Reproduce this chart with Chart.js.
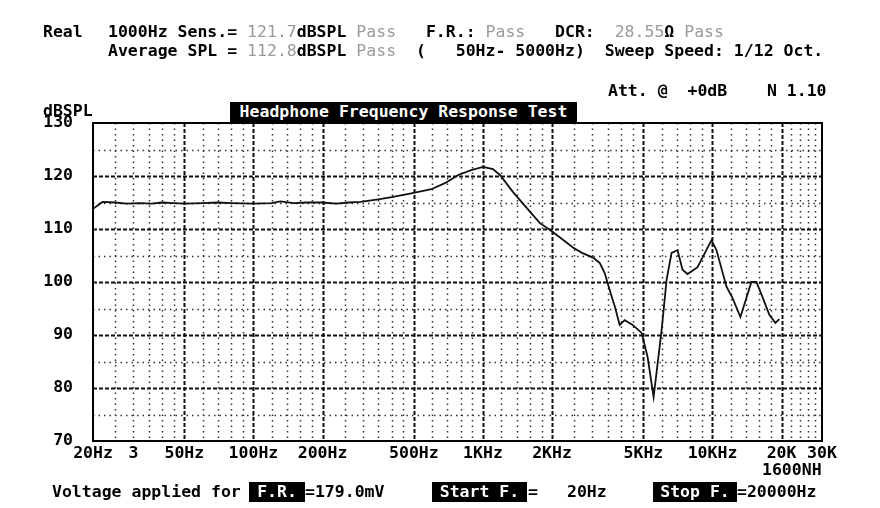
<!DOCTYPE html>
<html>
<head>
<meta charset="utf-8">
<script src="https://cdn.jsdelivr.net/npm/chart.js@4.4.1/dist/chart.umd.min.js"></script>
<style>
  body { margin: 0; background: #fff; }
  #wrap { position: relative; width: 880px; height: 508px; overflow: hidden; }
  #frChart { position: absolute; left: 0; top: 0; }
  .t { position: absolute; font-family: 'DejaVu Sans Mono', monospace; font-weight: bold;
       font-size: 16.5px; line-height: 16.5px; white-space: pre; color: #000; }
  .g { color: #9a9a9a; font-weight: normal; }
  .box { background: #000; color: #fff; text-align: center; height: 20px; line-height: 20px; }
</style>
</head>
<body>
<div id="wrap">
  <canvas id="frChart" width="880" height="508"></canvas>

  <div class="t" style="left:43px;top:24px">Real</div>
  <div class="t" style="left:108px;top:24px">1000Hz Sens.= <span class="g">121.7</span>dBSPL <span class="g">Pass</span>   F.R.: <span class="g">Pass</span>   DCR:  <span class="g">28.55</span>Ω <span class="g">Pass</span></div>
  <div class="t" style="left:108px;top:43px">Average SPL = <span class="g">112.8</span>dBSPL <span class="g">Pass</span>  (   50Hz- 5000Hz)  Sweep Speed: 1/12 Oct.</div>
  <div class="t" style="left:608px;top:83px">Att. @  +0dB    N 1.10</div>
  <div class="t" style="left:43px;top:103px">dBSPL</div>
  <div class="t box" style="left:230px;top:102px;width:347px">Headphone Frequency Response Test</div>

  <div class="t" style="left:762px;top:462px">1600NH</div>
  <div class="t" style="left:52px;top:484px">Voltage applied for</div>
  <div class="t box" style="left:249px;top:482px;width:56px">F.R.</div>
  <div class="t" style="left:305px;top:484px">=179.0mV</div>
  <div class="t box" style="left:432px;top:482px;width:95px">Start F.</div>
  <div class="t" style="left:528px;top:484px">=</div>
  <div class="t" style="left:567px;top:484px">20Hz</div>
  <div class="t box" style="left:653px;top:482px;width:84px">Stop F.</div>
  <div class="t" style="left:737px;top:484px">=20000Hz</div>
</div>

<script>
// measured response, Hz / dBSPL
const freqs = [20, 22, 25, 28, 32, 36, 40, 45, 50, 60, 70, 80, 100, 120, 131, 150, 170, 200, 230, 260, 293,
  350, 400, 487, 596, 686, 780, 889, 1000, 1105, 1186, 1350, 1550, 1770, 1960, 2166, 2467, 2700, 3015,
  3226, 3391, 3638, 3760, 3941, 4144, 4489, 4913, 5218, 5540, 6003, 6310, 6633, 7042, 7404, 7785, 8606,
  9901, 10410, 11507, 12218, 13235, 14775, 15535, 16502, 17692, 18790, 19560];
const spl = [113.8, 115.1, 115.0, 114.8, 114.9, 114.8, 115.0, 114.9, 114.8, 114.9, 115.0, 114.9, 114.8, 114.9, 115.2, 114.9, 115.0, 115.0, 114.8, 115.0, 115.1,
  115.6, 116.0, 116.7, 117.5, 118.7, 120.2, 121.1, 121.7, 121.3, 120.2, 117.0, 114.0, 111.1, 109.8, 108.4, 106.5, 105.5, 104.6,
  103.6, 101.7, 97.2, 95.3, 91.9, 92.8, 91.9, 90.4, 85.8, 78.3, 90.9, 100.4, 105.5, 106.0, 102.3, 101.5, 102.8,
  107.9, 106.0, 99.1, 97.0, 93.4, 100.0, 100.0, 97.2, 93.8, 92.3, 93.0];

const xTickValues = [20, 30, 50, 100, 200, 500, 1000, 2000, 5000, 10000, 20000, 30000];
const xTickLabels = ['20Hz', '3', '50Hz', '100Hz', '200Hz', '500Hz', '1KHz', '2KHz', '5KHz', '10KHz', '20K', '30K'];
const xMajor = [50, 100, 200, 500, 1000, 2000, 5000, 10000, 20000];
const xMinor = [25, 30, 35, 40, 45, 60, 70, 80, 90, 120, 140, 160, 180, 250, 300, 350, 400, 450,
  600, 700, 800, 900, 1200, 1400, 1600, 1800, 2500, 3000, 3500, 4000, 4500, 6000, 7000, 8000, 9000,
  12000, 14000, 16000, 18000, 22000, 24000, 26000, 28000];
const yMajor = [80, 90, 100, 110, 120];
const yMinor = [75, 85, 95, 105, 115, 125];

const tickFont = { family: "'DejaVu Sans Mono', monospace", size: 16.5, weight: 'bold' };

const gridPlugin = {
  id: 'gridPlugin',
  beforeDatasetsDraw(chart) {
    const { ctx, chartArea: a, scales: { x, y } } = chart;
    ctx.save();
    const vline = v => {
      const px = Math.round(x.getPixelForValue(v)) + 0.5;
      ctx.beginPath(); ctx.moveTo(px, a.top); ctx.lineTo(px, a.bottom); ctx.stroke();
    };
    const hline = v => {
      const py = Math.round(y.getPixelForValue(v)) + 0.5;
      ctx.beginPath(); ctx.moveTo(a.left, py); ctx.lineTo(a.right, py); ctx.stroke();
    };
    ctx.strokeStyle = '#333';
    ctx.lineWidth = 1.5;
    ctx.setLineDash([1.5, 4]);
    xMinor.forEach(vline);
    yMinor.forEach(hline);
    ctx.strokeStyle = '#111';
    ctx.lineWidth = 2;
    ctx.setLineDash([4, 2]);
    xMajor.forEach(vline);
    yMajor.forEach(hline);
    ctx.setLineDash([]);
    ctx.lineWidth = 2;
    ctx.strokeStyle = '#000';
    ctx.strokeRect(a.left, a.top, a.right - a.left, a.bottom - a.top);
    ctx.restore();
  }
};

new Chart(document.getElementById('frChart'), {
  type: 'line',
  data: {
    datasets: [{
      data: freqs.map((f, i) => ({ x: f, y: spl[i] })),
      borderColor: '#111',
      borderWidth: 1.8,
      pointRadius: 0,
      tension: 0,
      fill: false
    }]
  },
  options: {
    responsive: false,
    animation: false,
    devicePixelRatio: 1,
    layout: { padding: { left: 0, top: 123, right: 58, bottom: 39 } },
    plugins: { legend: { display: false }, tooltip: { enabled: false } },
    scales: {
      x: {
        type: 'logarithmic',
        min: 20,
        max: 30000,
        grid: { display: false },
        border: { display: false },
        afterBuildTicks: s => { s.ticks = xTickValues.map(v => ({ value: v })); },
        afterFit: s => { s.height = 28; },
        ticks: {
          autoSkip: false,
          maxRotation: 0,
          padding: -5,
          color: '#000',
          font: tickFont,
          callback: (v, i) => xTickLabels[i]
        }
      },
      y: {
        min: 70,
        max: 130,
        grid: { display: false },
        border: { display: false },
        afterFit: s => { s.width = 93; },
        ticks: { stepSize: 10, padding: 12, color: '#000', font: tickFont }
      }
    }
  },
  plugins: [gridPlugin]
});
</script>
</body>
</html>
